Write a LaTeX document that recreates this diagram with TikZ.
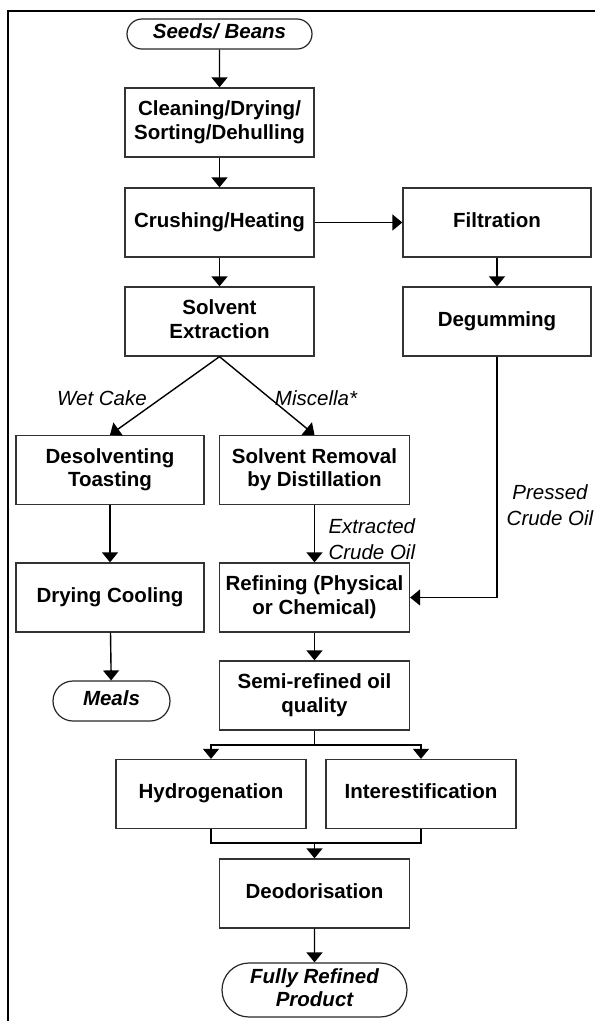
\documentclass[tikz,border=0pt]{standalone}
\usepackage{fontspec}
\setmainfont{Liberation Sans}
\usetikzlibrary{arrows.meta,shapes.misc}
\newcommand\boxstrut{\rule[-5pt]{0pt}{19.7pt}}

\begin{document}
\begin{tikzpicture}[x=1pt,y=-1pt,
    font=\fontsize{20.5}{23.5}\selectfont,
    procbox/.style={draw=black!80, line width=1.3pt, minimum width=190pt, minimum height=69pt, align=center, inner sep=2pt, execute at begin node=\boxstrut, execute at end node=\boxstrut, font=\fontsize{20.5}{23.5}\selectfont\bfseries},
    termbox/.style={draw=black!85, line width=1.2pt, rounded rectangle, minimum width=189pt, align=center, inner sep=2pt, execute at begin node=\boxstrut, execute at end node=\boxstrut, font=\fontsize{20.5}{23.5}\selectfont\bfseries\itshape},
    flowlabel/.style={font=\fontsize{20.5}{25.5}\selectfont\itshape},
    arr/.style={line width=1.4pt, -{Triangle[width=16pt,length=10pt]}},
    ln/.style={line width=1.4pt}]
    % page size and frame
        \useasboundingbox (0,0) rectangle (595,1021);
        \draw[line width=2.6pt] (8,1021) -- (8,11) -- (595,11);

    % left column
        \node[termbox, minimum height=30pt] (seeds) at (219.5,34) {Seeds/ Beans};
        \node[procbox, minimum width=189pt] (clean) at (219.5,122.5) {Cleaning/Drying/\\Sorting/Dehulling};
        \node[procbox, minimum width=189pt] (crush) at (219.5,222.5) {Crushing/Heating};
        \node[procbox, minimum width=189pt] (solv) at (219.5,321.5) {Solvent\\Extraction};
        \node[procbox, minimum width=188pt] (desolv) at (110,470) {Desolventing\\Toasting};
        \node[procbox, minimum width=188pt] (dry) at (110,597.5) {Drying Cooling};
        \node[termbox, minimum width=121pt, minimum height=40pt] (meals) at (111.5,701) {Meals};

    % right column
        \node[procbox, minimum width=188pt] (filt) at (497,222.5) {Filtration};
        \node[procbox, minimum width=188pt] (degum) at (497,321.5) {Degumming};

    % middle column
        \node[procbox] (remov) at (314.5,470) {Solvent Removal\\by Distillation};
        \node[procbox] (refin) at (314.5,597.5) {Refining (Physical\\or Chemical)};
        \node[procbox] (semi) at (314.5,695.5) {Semi-refined oil\\quality};
        \node[procbox] (hydro) at (211,794) {Hydrogenation};
        \node[procbox] (inter) at (421,794) {Interestification};
        \node[procbox] (deo) at (314.5,893.5) {Deodorisation};
        \node[termbox, minimum height=54pt] (fully) at (314.5,990) {Fully Refined\\Product};

    % labels on the flows
        \node[flowlabel] (wet) at (102,398) {Wet Cake};
        \node[flowlabel] (misc) at (316,398) {Miscella*};
        \node[flowlabel, align=left, anchor=west] (extr) at (325,539) {Extracted\\Crude Oil};
        \node[flowlabel, align=center] (press) at (550,505) {Pressed\\Crude Oil};

    % arrows
        \draw[arr] (seeds) -- (clean);
        \draw[arr] (clean) -- (crush);
        \draw[arr] (crush) -- (solv);
        \draw[arr] (crush) -- (filt);
        \draw[arr] (filt) -- (degum);
        \draw[arr] (solv.south) -- (desolv.north);
        \draw[arr] (solv.south) -- (remov.north);
        \draw[arr] (desolv) -- (dry);
        \draw[arr] (dry) -- (meals);
        \draw[arr] (remov) -- (refin);
        \draw[arr] (degum.south) |- (refin.east);
        \draw[arr] (refin) -- (semi);

    % split and join
        \coordinate (split) at (314.5,745);
        \coordinate (join) at (314.5,843);
        \draw[ln] (semi.south) -- (split);
        \draw[arr] (split) -| (hydro.north);
        \draw[arr] (split) -| (inter.north);
        \draw[ln] (hydro.south) |- (join);
        \draw[ln] (inter.south) |- (join);
        \draw[arr] (join) -- (deo.north);
        \draw[arr] (deo) -- (fully);
\end{tikzpicture}
\end{document}
